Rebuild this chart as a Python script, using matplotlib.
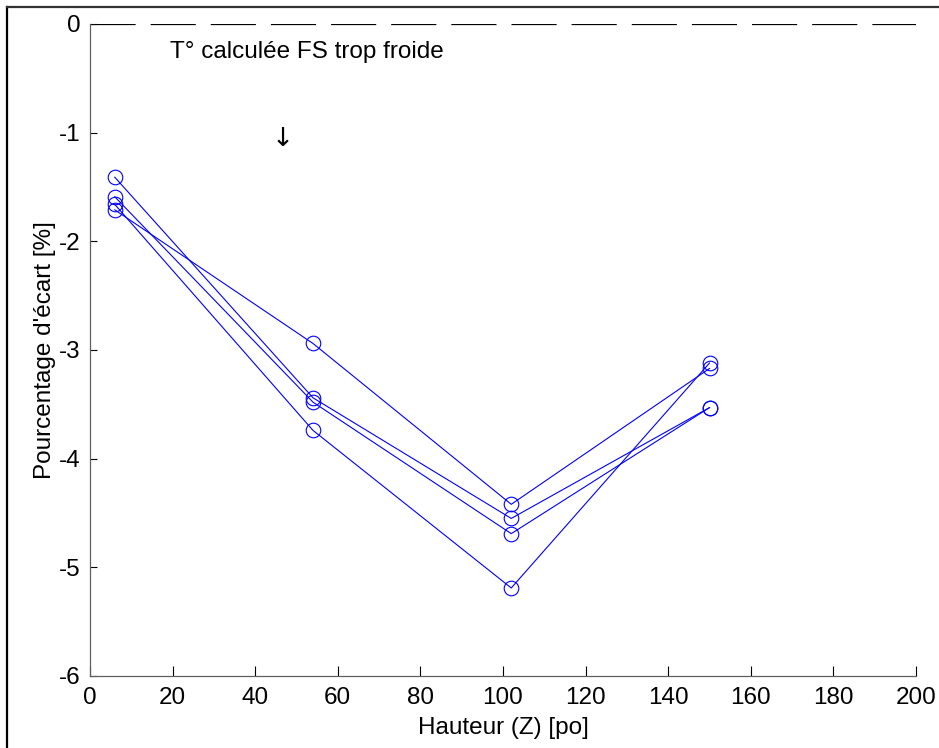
import numpy as np
import matplotlib
matplotlib.use("Agg")
import matplotlib.pyplot as plt
from matplotlib.lines import Line2D

plt.rcParams["font.family"] = ["Liberation Sans", "DejaVu Sans"]
plt.rcParams["font.size"] = 17.5
plt.rcParams["lines.scale_dashes"] = False
plt.rcParams["axes.unicode_minus"] = False

# hauteur des capteurs [po]
hauteur = [6, 54, 102, 150]

# pourcentage d'ecart [%], une serie par essai
ecart_1 = [-1.41, -3.44, -4.55, -3.53]
ecart_2 = [-1.59, -3.48, -4.69, -3.53]
ecart_3 = [-1.66, -3.74, -5.19, -3.12]
ecart_4 = [-1.71, -2.94, -4.42, -3.17]
series = [ecart_1, ecart_2, ecart_3, ecart_4]

ref_x = [0, 200]
ref_y = [0, 0]

xticks = list(range(0, 201, 20))
yticks = list(range(-6, 1))

fig = plt.figure(figsize=(9.39, 7.48), dpi=100)
ax = fig.add_axes([90 / 939, 1 - 676 / 748, 826 / 939, 652 / 748])

ax.plot(ref_x, ref_y, color="k", linewidth=0.9, dashes=(32.5, 10.8))
for s in series:
    ax.plot(hauteur, s, color=(0, 0, 1), linewidth=0.8, marker="o",
            markersize=10.5, markerfacecolor="none", markeredgewidth=0.8)

ax.text(19.4, -0.26, "T° calculée FS trop froide", va="center", ha="left")
ax.text(46.7, -1.06, "↓", va="center", ha="center", family="DejaVu Sans",
        fontsize=19)

ax.set_xlim(0, 200)
ax.set_ylim(-6, 0)
ax.set_xticks(xticks)
ax.set_yticks(yticks)
ax.set_xlabel("Hauteur (Z) [po]", labelpad=6)
ax.set_ylabel("Pourcentage d'écart [%]", labelpad=2)

for side in ["top", "right"]:
    ax.spines[side].set_visible(False)
for side in ["left", "bottom"]:
    ax.spines[side].set_color("#606060")
    ax.spines[side].set_linewidth(0.9)
ax.tick_params(axis="x", direction="in", length=7, width=0.8, pad=8, colors="k")
ax.tick_params(axis="y", direction="in", length=5, width=0.8, pad=7, colors="k")

# cadre de la figure (haut et gauche)
fig.add_artist(Line2D([7 / 939, 7 / 939], [0, 1 - 7 / 748], color="k",
                      linewidth=1.6, transform=fig.transFigure))
fig.add_artist(Line2D([7 / 939, 1], [1 - 7 / 748, 1 - 7 / 748], color="#333333",
                      linewidth=1.6, transform=fig.transFigure))

fig.savefig("out.png", dpi=100)
